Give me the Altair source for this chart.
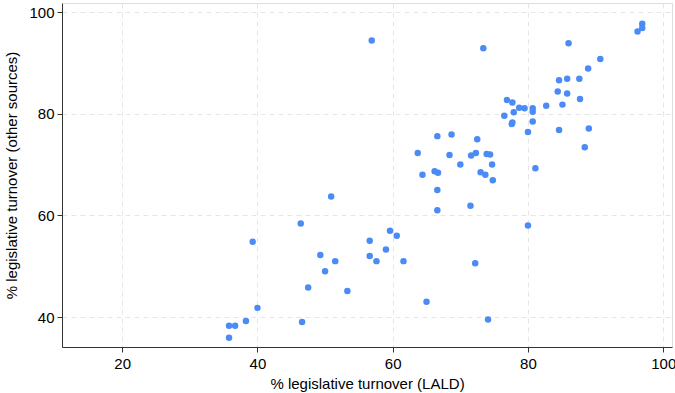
import altair as alt
import pandas as pd

lald = [35.8, 35.8, 36.7, 38.3, 39.3, 40.0, 46.4, 46.6, 47.5, 49.3, 50.0, 50.9, 51.5, 53.3,
        56.6, 56.6, 56.9, 57.6, 59.0, 59.6, 60.6, 61.6, 63.7, 64.4, 65.0, 66.2, 66.7, 66.6,
        66.6, 66.6, 68.4, 68.7, 70.0, 71.5, 71.6, 72.2, 72.3, 72.5, 73.0, 73.4, 73.7, 73.9,
        74.1, 74.4, 74.7, 74.8, 76.5, 76.9, 77.6, 77.7, 77.7, 77.9, 78.7, 79.5, 80.0, 80.0,
        80.7, 80.7, 80.7, 81.1, 82.7, 84.4, 84.6, 84.6, 85.1, 85.8, 85.8, 86.0, 87.6, 87.7,
        88.4, 88.9, 89.0, 90.7, 96.2, 96.9, 96.9]
other = [35.9, 38.3, 38.3, 39.2, 54.8, 41.8, 58.4, 39.0, 45.8, 52.2, 49.0, 63.7, 51.0, 45.1,
         55.0, 52.0, 94.4, 51.0, 53.3, 57.0, 56.0, 51.0, 72.3, 68.0, 43.0, 68.7, 68.4, 75.6,
         65.0, 61.0, 71.9, 75.9, 70.0, 61.9, 71.8, 50.6, 72.3, 75.0, 68.5, 92.9, 68.0, 72.1,
         39.5, 72.0, 70.0, 66.9, 79.6, 82.7, 78.0, 78.3, 82.2, 80.3, 81.2, 81.1, 58.0, 76.4,
         81.1, 80.4, 78.5, 69.3, 81.6, 84.4, 86.6, 76.8, 81.8, 86.9, 84.0, 93.9, 86.9, 82.9,
         73.4, 88.9, 77.1, 90.8, 96.2, 96.9, 97.7]

x_ticks = [20, 40, 60, 80, 100]
y_ticks = [40, 60, 80, 100]

df = pd.DataFrame({"lald": lald, "other": other})

FONT = "Liberation Sans"

chart = alt.Chart(df).mark_circle(size=42, opacity=1, color="#4B8BF5").encode(
    x=alt.X("lald:Q", title="% legislative turnover (LALD)",
            scale=alt.Scale(domain=[11.1, 101.3], nice=False, zero=False),
            axis=alt.Axis(values=x_ticks, format="d", grid=True,
                          gridDash=[5, 4], gridColor="#e6e6e6", gridWidth=1,
                          domainColor="#333333", tickColor="#333333", tickSize=5,
                          labelFont=FONT, labelFontSize=15, labelColor="#000000",
                          labelPadding=4, titleFont=FONT, titleFontSize=15,
                          titleFontWeight="normal", titleColor="#000000", titlePadding=5)),
    y=alt.Y("other:Q", title="% legislative turnover (other sources)",
            scale=alt.Scale(domain=[34.1, 101.8], nice=False, zero=False),
            axis=alt.Axis(values=y_ticks, format="d", grid=True,
                          gridDash=[5, 4], gridColor="#e6e6e6", gridWidth=1,
                          domainColor="#333333", tickColor="#333333", tickSize=5,
                          labelFont=FONT, labelFontSize=15, labelColor="#000000",
                          labelPadding=3, titleFont=FONT, titleFontSize=15,
                          titleFontWeight="normal", titleColor="#000000", titlePadding=9)),
).properties(
    width=610, height=344,
    autosize=alt.AutoSizeParams(type="none"),
    padding={"left": 62, "top": 3, "right": 3, "bottom": 46},
).configure_view(stroke=None).configure(background="white")

chart.save("out.html", embed_options={"renderer": "svg", "actions": False})
